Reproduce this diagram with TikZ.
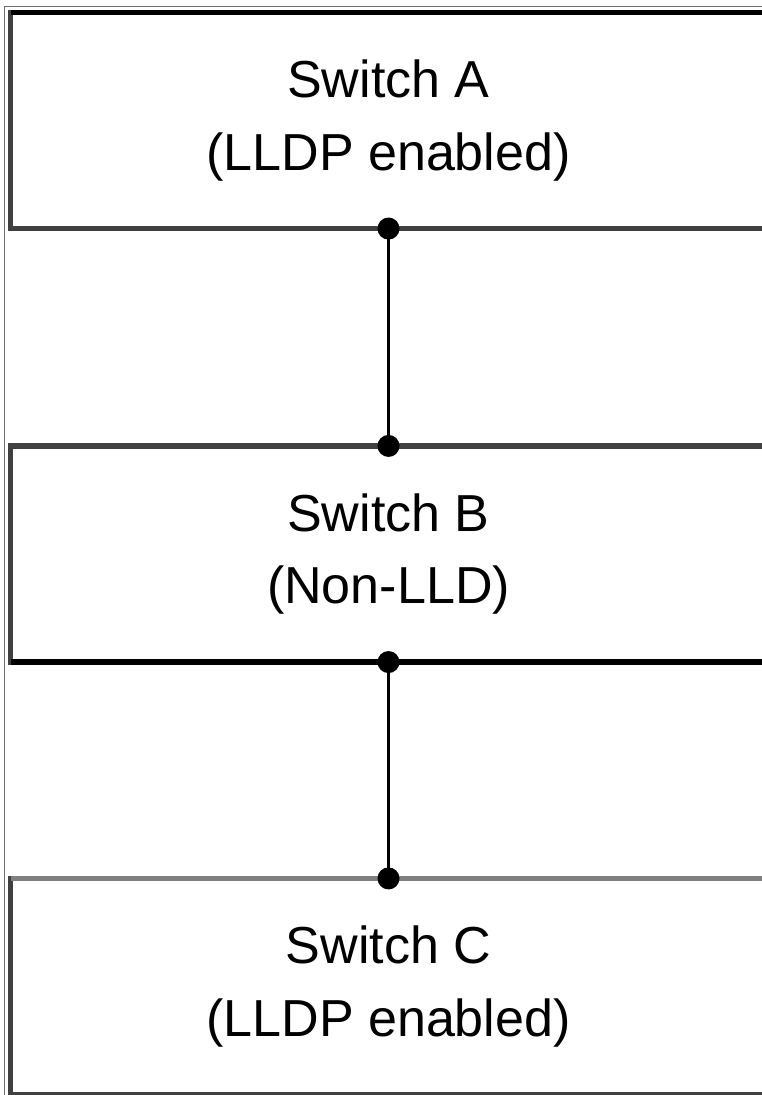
\documentclass[tikz,border=0pt]{standalone}
\usepackage{fontspec}
\setmainfont{Liberation Sans}
\definecolor{edgedark}{RGB}{64,64,64}
\definecolor{edgemid}{RGB}{128,128,128}
\definecolor{framegray}{RGB}{110,110,110}
\tikzset{
	switch box/.style={
		draw = edgedark,
		line width = 1.5pt,
		minimum width = 7.55cm,
		minimum height = 2.16cm,
		inner sep = 0pt,
		outer sep = 0pt,
		align = center,
		font = \fontsize{14.8}{20.5}\selectfont
	},
	link/.style={line width=1.0pt}
}
\begin{document}
\begin{tikzpicture}[x=0.01cm,y=-0.01cm]

\useasboundingbox (0,0) rectangle (762,1095);
\fill[white] (0,0) rectangle (762,1095);
\draw[framegray,line width=0.4pt] (4.5,1095) -- (4.5,6.5) -- (762,6.5);

\node[switch box] (swA) at (388.5,120.5) {Switch A\\(LLDP enabled)};
\node[switch box] (swB) at (388.5,554.0) {Switch B\\(Non-LLD)};
\node[switch box] (swC) at (388.5,986.5) {Switch C\\(LLDP enabled)};

% edge shades
\draw[black,line width=1.5pt] (swA.north west) -- (swA.north east);
\draw[black,line width=1.5pt] (swB.south west) -- (swB.south east);
\draw[edgemid,line width=1.5pt] (swC.north west) -- (swC.north east);

\draw[link] (swA.south) -- (swB.north);
\draw[link] (swB.south) -- (swC.north);

\foreach \p in {swA.south,swB.north,swB.south,swC.north}
	\fill (\p) circle (0.11cm);

\end{tikzpicture}
\end{document}
